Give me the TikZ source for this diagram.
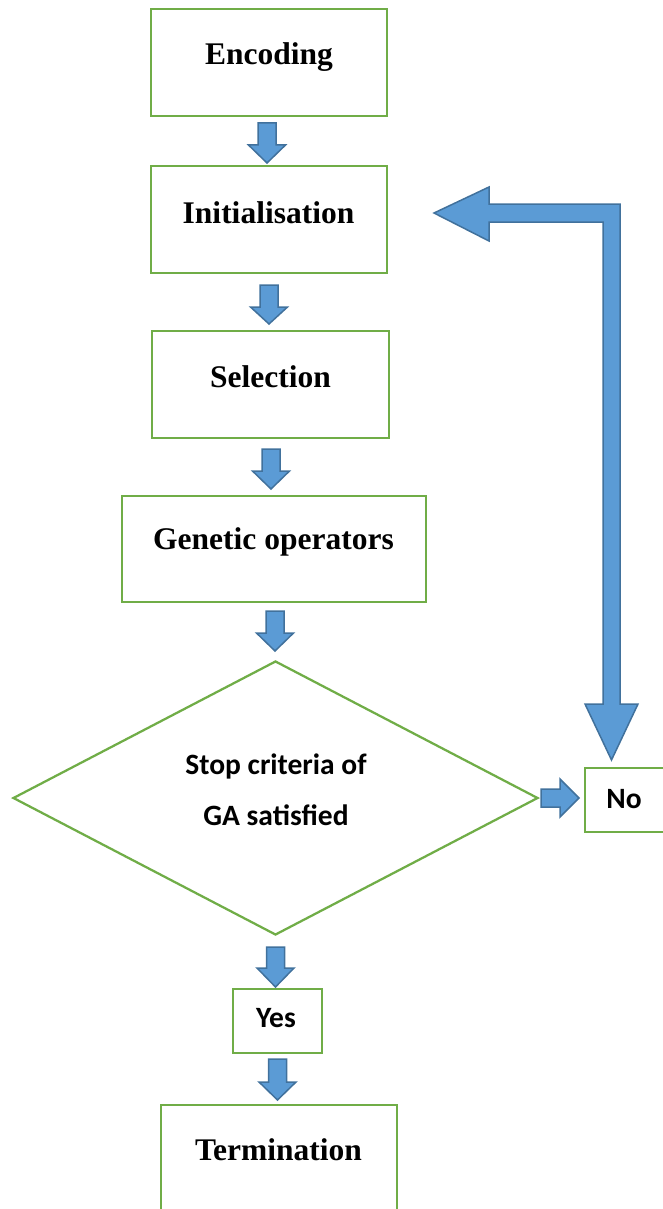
\documentclass[tikz,border=0pt]{standalone}
\usepackage{fontspec}
\setmainfont{Liberation Serif}
\newfontfamily\calib{Carlito}
\usetikzlibrary{shapes.geometric}
\definecolor{boxgreen}{RGB}{112,173,71}
\definecolor{arrowfill}{RGB}{91,155,213}
\definecolor{arrowline}{RGB}{65,113,156}
\tikzset{
  stagebox/.style={draw=boxgreen, line width=2.25pt, fill=white, inner sep=0pt},
  titletext/.style={anchor=base, inner sep=0pt, font=\bfseries\fontsize{31.5}{36}\selectfont},
  smalltext/.style={anchor=base, inner sep=0pt, font=\calib\bfseries\fontsize{29.5}{35}\selectfont},
  blockarrow/.style={fill=arrowfill, draw=arrowline, line width=1.5pt, line join=miter},
}
% downward block arrow: centre x, top y, start of head y, tip y
\newcommand\blockdown[4]{%
  \filldraw[blockarrow] (#1-9,#2) -- (#1+9,#2) -- (#1+9,#3) -- (#1+18.5,#3)
    -- (#1,#4) -- (#1-18.5,#3) -- (#1-9,#3) -- cycle;}
\begin{document}
\begin{tikzpicture}[x=1pt, y=-1pt]
\useasboundingbox (0,0) rectangle (663,1209);

% process boxes
\node[stagebox, minimum width=236pt, minimum height=107pt] (enc)  at (269,62.5)  {};
\node[stagebox, minimum width=236pt, minimum height=107pt] (init) at (269,219.5) {};
\node[stagebox, minimum width=237pt, minimum height=107pt] (sel)  at (270.5,384.5) {};
\node[stagebox, minimum width=304pt, minimum height=106pt] (gen)  at (274,549) {};
\node[stagebox, shape=diamond, minimum width=525pt, minimum height=274pt] (stop) at (275.5,798) {};
\node[stagebox, minimum width=80pt, minimum height=64pt]   (no)   at (625,800) {};
\node[stagebox, minimum width=89pt, minimum height=64pt]   (yes)  at (277.5,1021) {};
\node[stagebox, minimum width=236pt, minimum height=110pt] (term) at (279,1160) {};

% labels
\node[titletext] (encT)  at (269,65)    {Encoding};
\node[titletext] (initT) at (268.5,223) {Initialisation};
\node[titletext] (selT)  at (270.5,387) {Selection};
\node[titletext] (genT)  at (273.5,549) {Genetic operators};
\node[titletext] (termT) at (278.5,1160) {Termination};
\node[smalltext] (stopA) at (276,774)   {Stop criteria of};
\node[smalltext] (stopB) at (276,825)   {GA satisfied};
\node[smalltext] (yesT)  at (276,1027)  {Yes};
\node[smalltext] (noT)   at (624,808)   {No};

% downward block arrows between the stages
\blockdown{267}{123}{145}{163}
\blockdown{269}{285}{307}{324}
\blockdown{271}{449}{471}{489}
\blockdown{275}{611}{633}{651}
\blockdown{275.5}{947}{968}{987}
\blockdown{277.5}{1059}{1082}{1100}

% arrow from the decision to "No"
\filldraw[blockarrow] (541,789) -- (560,789) -- (560,779) -- (579,798)
  -- (560,817) -- (560,807) -- (541,807) -- cycle;

% bent return arrow from "No" back to initialisation
\filldraw[blockarrow] (434,213) -- (489,187) -- (489,204) -- (620,204)
  -- (620,704) -- (638,704) -- (611.5,760) -- (585,704) -- (603,704)
  -- (603,222) -- (489,222) -- (489,241) -- cycle;
\end{tikzpicture}
\end{document}
